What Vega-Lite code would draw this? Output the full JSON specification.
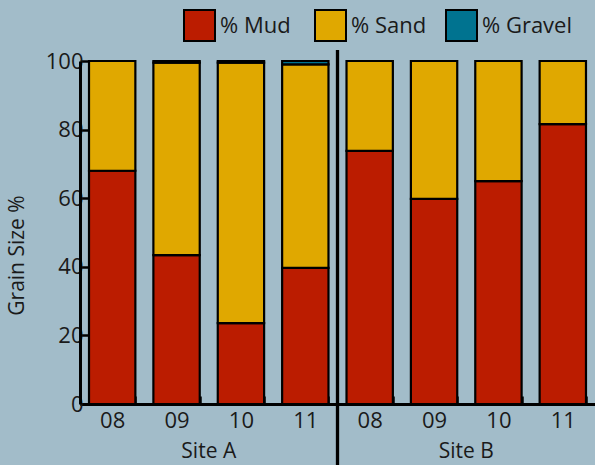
{
  "$schema": "https://vega.github.io/schema/vega-lite/v6.json",
  "width": 515,
  "height": 343,
  "autosize": {"type": "none"},
  "padding": {"left": 80, "top": 61, "right": 0, "bottom": 61},
  "background": "#a2bcc9",
  "config": {
    "view": {"stroke": null},
    "font": "Open Sans",
    "text": {"font": "Open Sans"}
  },
  "datasets": {
    "bars": [
      {"bar": "A 08", "comp": "% Mud", "value": 68.0},
      {"bar": "A 08", "comp": "% Sand", "value": 32.0},
      {"bar": "A 08", "comp": "% Gravel", "value": 0.0},
      {"bar": "A 09", "comp": "% Mud", "value": 43.4},
      {"bar": "A 09", "comp": "% Sand", "value": 56.1},
      {"bar": "A 09", "comp": "% Gravel", "value": 0.5},
      {"bar": "A 10", "comp": "% Mud", "value": 23.6},
      {"bar": "A 10", "comp": "% Sand", "value": 75.9},
      {"bar": "A 10", "comp": "% Gravel", "value": 0.5},
      {"bar": "A 11", "comp": "% Mud", "value": 39.7},
      {"bar": "A 11", "comp": "% Sand", "value": 59.3},
      {"bar": "A 11", "comp": "% Gravel", "value": 1.0},
      {"bar": "B 08", "comp": "% Mud", "value": 73.8},
      {"bar": "B 08", "comp": "% Sand", "value": 26.2},
      {"bar": "B 08", "comp": "% Gravel", "value": 0.0},
      {"bar": "B 09", "comp": "% Mud", "value": 59.8},
      {"bar": "B 09", "comp": "% Sand", "value": 40.2},
      {"bar": "B 09", "comp": "% Gravel", "value": 0.0},
      {"bar": "B 10", "comp": "% Mud", "value": 65.0},
      {"bar": "B 10", "comp": "% Sand", "value": 35.0},
      {"bar": "B 10", "comp": "% Gravel", "value": 0.0},
      {"bar": "B 11", "comp": "% Mud", "value": 81.6},
      {"bar": "B 11", "comp": "% Sand", "value": 18.4},
      {"bar": "B 11", "comp": "% Gravel", "value": 0.0}
    ],
    "divider": [{"pos": 4, "top": 103.2, "bottom": -18}],
    "sites": [
      {"pos": 2, "site": "Site A", "y": -14},
      {"pos": 6, "site": "Site B", "y": -14}
    ]
  },
  "layer": [
    {
      "data": {"name": "bars"},
      "transform": [
        {"calculate": "indexof(['% Mud','% Sand','% Gravel'], datum.comp)", "as": "ord"}
      ],
      "mark": {"type": "bar", "stroke": "black", "strokeWidth": 2.2},
      "encoding": {
        "x": {
          "field": "bar",
          "type": "nominal",
          "sort": null,
          "scale": {"paddingInner": 0.28, "paddingOuter": 0.14},
          "axis": {
            "title": null,
            "labelExpr": "split(datum.label, ' ')[1]",
            "labelAngle": 0,
            "labelFontSize": 22,
            "labelColor": "#1a1a1a",
            "labelPadding": 14,
            "tickBand": "extent",
            "tickSize": -8,
            "tickWidth": 2.5,
            "tickColor": "black",
            "domainColor": "black",
            "domainWidth": 3
          }
        },
        "y": {
          "field": "value",
          "type": "quantitative",
          "stack": "zero",
          "scale": {"domain": [0, 100], "nice": false},
          "axis": {
            "title": "Grain Size %",
            "titleFontSize": 21,
            "titleFontWeight": "normal",
            "titleColor": "#1a1a1a",
            "titleX": -63,
            "titleY": 194,
            "titleBaseline": "middle",
            "titleAlign": "center",
            "values": [0, 20, 40, 60, 80, 100],
            "labelFontSize": 22,
            "labelColor": "#1a1a1a",
            "labelPadding": 5,
            "tickSize": -8,
            "tickWidth": 2.5,
            "tickColor": "black",
            "domainColor": "black",
            "domainWidth": 3,
            "grid": false
          }
        },
        "color": {
          "field": "comp",
          "type": "nominal",
          "scale": {
            "domain": ["% Mud", "% Sand", "% Gravel"],
            "range": ["#bb1c00", "#e0a800", "#007390"]
          },
          "legend": {
            "title": null,
            "orient": "none",
            "direction": "horizontal",
            "legendX": 103,
            "legendY": -52,
            "symbolType": "square",
            "symbolSize": 961,
            "symbolStrokeColor": "black",
            "symbolStrokeWidth": 2,
            "symbolOpacity": 1,
            "labelFontSize": 22,
            "labelColor": "#1a1a1a",
            "labelOffset": 4,
            "columnPadding": 0,
            "gridAlign": "all"
          }
        },
        "order": {"field": "ord", "type": "quantitative"}
      }
    },
    {
      "data": {"name": "divider"},
      "mark": {"type": "rule", "color": "black", "strokeWidth": 3.3, "clip": false},
      "encoding": {
        "x": {"field": "pos", "type": "quantitative", "scale": {"domain": [0, 8], "nice": false}, "axis": null},
        "y": {"field": "top", "type": "quantitative"},
        "y2": {"field": "bottom"}
      }
    },
    {
      "data": {"name": "sites"},
      "mark": {"type": "text", "fontSize": 21, "color": "#1a1a1a", "baseline": "middle", "clip": false},
      "encoding": {
        "x": {"field": "pos", "type": "quantitative", "scale": {"domain": [0, 8], "nice": false}, "axis": null},
        "y": {"field": "y", "type": "quantitative"},
        "text": {"field": "site"}
      }
    }
  ],
  "resolve": {"scale": {"x": "independent"}}
}
